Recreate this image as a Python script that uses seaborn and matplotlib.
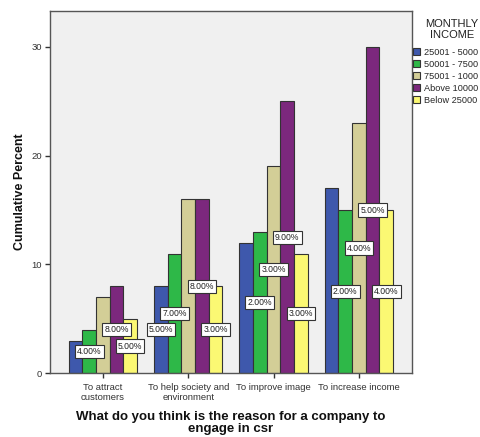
import matplotlib
matplotlib.use("Agg")
import matplotlib.pyplot as plt
import matplotlib.patches as mpatches
import numpy as np
import pandas as pd
import seaborn as sns

# Reasons for CSR (x categories)
reasons = ["To attract\ncustomers", "To help society and\nenvironment",
           "To improve image", "To increase income"]

# Monthly income groups (legend text as shown)
income_groups = ["25001 - 5000", "50001 - 7500", "75001 - 1000",
                 "Above 10000", "Below 25000"]

# Cumulative percent per income group across the four reasons
cum_25_50 = [3, 8, 12, 17]
cum_50_75 = [4, 11, 13, 15]
cum_75_100 = [7, 16, 19, 23]
cum_above = [8, 16, 25, 30]
cum_below = [5, 8, 11, 15]

# Which bars carry a percentage label (the step added at that reason)
show_25_50 = [False, True, False, False]
show_50_75 = [True, True, True, True]
show_75_100 = [False, False, True, True]
show_above = [True, True, True, True]
show_below = [True, True, True, True]

palette = ["#3E58AC", "#2EB848", "#D3CE97", "#7C287D", "#FBF873"]

series = [cum_25_50, cum_50_75, cum_75_100, cum_above, cum_below]
shows = [show_25_50, show_50_75, show_75_100, show_above, show_below]

rows = []
for grp, vals in zip(income_groups, series):
    for r, v in zip(reasons, vals):
        rows.append({"reason": r, "income": grp, "pct": v})
df = pd.DataFrame(rows)

sns.set_theme(style="white")
plt.rcParams["font.family"] = ["Liberation Sans", "DejaVu Sans"]

W, H = 480, 437
fig = plt.figure(figsize=(W / 100, H / 100), dpi=100)
ax = fig.add_axes([0.104, 0.146, 0.754, 0.829])
ax.set_facecolor("#F0F0F0")

sns.barplot(data=df, x="reason", y="pct", hue="income", order=reasons,
            hue_order=income_groups, palette=palette, width=0.8,
            edgecolor="#333333", linewidth=0.8, saturation=1,
            errorbar=None, legend=False, ax=ax)

# percentage labels centred at half bar height
for cont, vals, show in zip(ax.containers, series, shows):
    steps = np.diff([0] + list(vals))
    for bar, s, on in zip(cont, steps, show):
        if not on:
            continue
        x = bar.get_x() + bar.get_width() / 2
        y = bar.get_height() / 2
        ax.text(x, y, f"{s:.2f}%", ha="center", va="center", fontsize=6.2,
                color="#222222",
                bbox=dict(boxstyle="square,pad=0.25", fc="white",
                          ec="#333333", lw=0.8))

ax.set_xlim(-0.62, 3.62)
ax.set_ylim(0, 33.3)
ax.set_yticks([0, 10, 20, 30])
ax.tick_params(axis="both", which="both", direction="out", length=3.5,
               width=1, color="#333333", labelsize=6.8, labelcolor="#333333",
               bottom=True, left=True, pad=2)
ax.tick_params(axis="x", pad=3.5)
for sp in ax.spines.values():
    sp.set_color("#555555")
    sp.set_linewidth(1)

ax.set_ylabel("Cumulative Percent", fontsize=9, fontweight="bold",
              color="#111111", labelpad=4)
ax.set_xlabel("What do you think is the reason for a company to\nengage in csr",
              fontsize=9.5, fontweight="bold", color="#111111", labelpad=6,
              linespacing=1.08)

# legend title and entries
fig.text(452 / W, 1 - 24 / H, "MONTHLY", ha="center", va="center",
         fontsize=8, color="#222222")
fig.text(452 / W, 1 - 35 / H, "INCOME", ha="center", va="center",
         fontsize=8, color="#222222")
handles = [mpatches.Patch(facecolor=c, edgecolor="#333333", lw=0.8)
           for c in palette]
leg = fig.legend(handles, income_groups,
                 loc="upper left", bbox_to_anchor=(413 / W, 1 - 48 / H),
                 frameon=False, fontsize=6.6,
                 handlelength=0.8, handleheight=0.8, handletextpad=0.45,
                 labelspacing=0.33, borderaxespad=0, borderpad=0)

fig.savefig("out.png", dpi=100)
